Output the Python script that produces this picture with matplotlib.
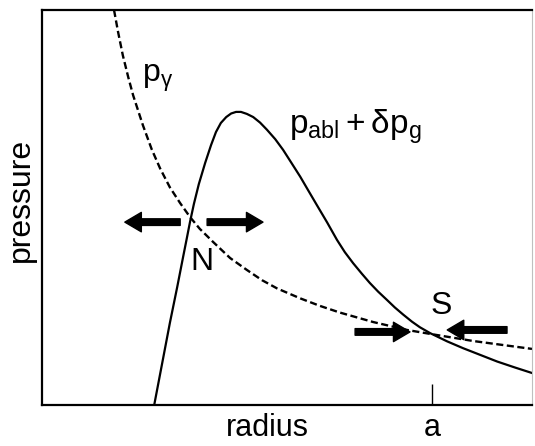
import matplotlib
matplotlib.use("Agg")
import matplotlib.pyplot as plt

plt.rcParams['font.family'] = ['Liberation Sans', 'DejaVu Sans']
plt.rcParams['mathtext.fontset'] = 'custom'
plt.rcParams['mathtext.rm'] = 'Liberation Sans'
plt.rcParams['mathtext.it'] = 'Liberation Sans'
plt.rcParams['mathtext.bf'] = 'Liberation Sans:bold'

# p_gamma (dashed)
r_gamma = [1.47, 1.55, 1.65, 1.76, 1.86, 2.06, 2.24, 2.41, 2.61, 2.82, 3.02,
           3.22, 3.49, 3.84, 4.18, 4.49, 4.80, 5.27, 5.67, 6.08, 6.76, 7.45,
           7.92, 8.80, 10.0]
p_gamma = [10.0, 9.46, 8.85, 8.30, 7.84, 7.08, 6.47, 5.99, 5.51, 5.11, 4.76,
           4.46, 4.13, 3.72, 3.42, 3.16, 2.95, 2.70, 2.51, 2.34, 2.10, 1.90,
           1.80, 1.62, 1.42]

# p_abl + delta p_g (solid)
r_abl = [2.29, 2.45, 2.61, 2.76, 2.88, 2.96, 3.02, 3.10, 3.20, 3.33, 3.45,
         3.55, 3.65, 3.76, 3.86, 3.96, 4.06, 4.18, 4.31, 4.45, 4.59, 4.76,
         4.92, 5.08, 5.27, 5.43, 5.61, 5.82, 6.02, 6.18, 6.35, 6.53, 6.69,
         6.86, 7.04, 7.20, 7.37, 7.55, 7.71, 7.92, 8.27, 8.59, 8.94, 9.29,
         9.65, 10.0]
p_abl = [0.00, 1.04, 2.08, 2.99, 3.75, 4.25, 4.63, 5.09, 5.59, 6.13, 6.58,
         6.91, 7.14, 7.29, 7.38, 7.42, 7.42, 7.37, 7.29, 7.15, 6.97, 6.73,
         6.46, 6.15, 5.78, 5.44, 5.06, 4.62, 4.18, 3.87, 3.59, 3.32, 3.09,
         2.87, 2.66, 2.47, 2.29, 2.11, 1.97, 1.82, 1.61, 1.44, 1.27, 1.10,
         0.95, 0.81]

# equilibrium points (N unstable, S stable) and radius a
pt_N = (3.02, 4.63)
pt_S = (7.92, 1.87)
a_pos = 7.96

fig = plt.figure(figsize=(5.35, 4.46), dpi=100)
ax = fig.add_axes([42/535, 41/446, 490/535, 395/446])

ax.plot(r_gamma, p_gamma, color='black', lw=1.7, ls=(0, (3, 1.5)))
ax.plot(r_abl, p_abl, color='black', lw=1.6, solid_joinstyle='round')

ax.set_xlim(0, 10)
ax.set_ylim(0, 10)

for s in ['left', 'top', 'bottom']:
    ax.spines[s].set_linewidth(1.6)
ax.spines['right'].set_linewidth(0.8)
ax.spines['right'].set_color('0.75')

ax.set_yticks([])
ax.set_xticks([a_pos])
ax.set_xticklabels(['a'], fontsize=22)
ax.tick_params(axis='x', direction='in', length=15, width=1, pad=6)

ax.text(-0.043, 0.52, 'pressure', rotation=90, ha='center', va='center',
        fontsize=23, transform=ax.transAxes)
ax.text(0.459, -0.058, 'radius', ha='center', va='center',
        fontsize=22, transform=ax.transAxes)

ax.text(2.04, 8.18, r'$\mathrm{p}_\gamma$', fontsize=23, va='baseline')
ax.text(5.04, 6.86, r'$\mathrm{p_{abl}+\delta p_g}$', fontsize=24, va='baseline')
ax.text(pt_N[0] + 0.25, pt_N[1] - 1.0, 'N', fontsize=23, ha='center', va='center')
ax.text(pt_S[0] + 0.22, pt_S[1] + 0.64, 'S', fontsize=23, ha='center', va='center')

arrow = dict(arrowstyle='simple,tail_width=0.34,head_width=1.0,head_length=0.85',
             color='black', mutation_scale=14, shrinkA=0, shrinkB=0)
# N: arrows pointing away
ax.annotate('', xy=(pt_N[0] - 1.33, pt_N[1]), xytext=(pt_N[0] - 0.2, pt_N[1]), arrowprops=arrow)
ax.annotate('', xy=(pt_N[0] + 1.49, pt_N[1]), xytext=(pt_N[0] + 0.35, pt_N[1]), arrowprops=arrow)
# S: arrows pointing toward
ax.annotate('', xy=(pt_S[0] - 0.41, pt_S[1] - 0.02), xytext=(pt_S[0] - 1.53, pt_S[1] - 0.02), arrowprops=arrow)
ax.annotate('', xy=(pt_S[0] + 0.35, pt_S[1] + 0.03), xytext=(pt_S[0] + 1.57, pt_S[1] + 0.03), arrowprops=arrow)

fig.savefig('out.png', dpi=100)
